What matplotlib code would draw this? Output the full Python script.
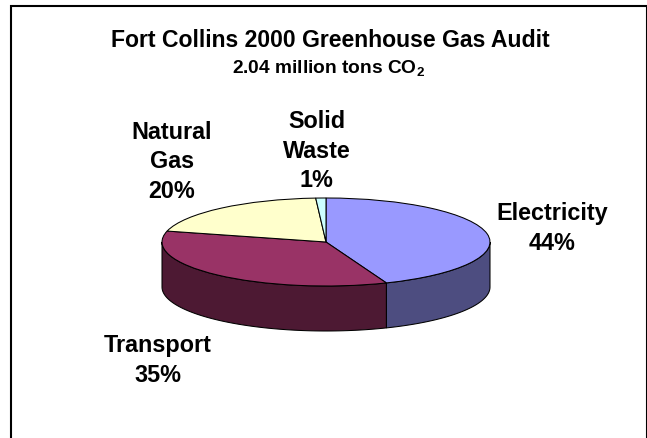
import numpy as np
import matplotlib
matplotlib.use("Agg")
import matplotlib.pyplot as plt
from matplotlib.patches import Polygon
from matplotlib.lines import Line2D

# ---- data ----
categories = ["Electricity", "Transport", "Natural\nGas", "Solid\nWaste"]
percent = [44, 35, 20, 1]
top_colors = ["#9999FF", "#993366", "#FFFFCC", "#CCFFFF"]
side_colors = ["#4D4D80", "#4D1933", "#80805F", "#668080"]
title = "Fort Collins 2000 Greenhouse Gas Audit"
subtitle = r"2.04 million tons CO$_{2}$"

plt.rcParams["font.family"] = ["Liberation Sans", "DejaVu Sans"]
plt.rcParams["mathtext.fontset"] = "custom"
plt.rcParams["mathtext.rm"] = "Liberation Sans:bold"
plt.rcParams["mathtext.it"] = "Liberation Sans:bold"
plt.rcParams["mathtext.bf"] = "Liberation Sans:bold"

W, H = 647, 438
fig = plt.figure(figsize=(W / 100, H / 100), dpi=100)
fig.patch.set_facecolor("white")

bg = fig.add_axes([0, 0, 1, 1])
bg.set_xlim(0, W)
bg.set_ylim(H, 0)
bg.axis("off")

# frame (no bottom edge)
bg.add_line(Line2D([10.5, 10.5, 646.5, 646.5], [H + 5, 5.5, 5.5, H + 5],
                   color="black", lw=1.5, solid_joinstyle="miter", clip_on=False))

# titles
bg.text(330.5, 47.3, title, ha="center", va="baseline", fontsize=16.6, fontweight="bold")
bg.text(328.5, 73, subtitle, ha="center", va="baseline", fontsize=13.8, fontweight="bold")

# ---- 3D pie ----
cx, cy, a, b, depth = 326, 242, 164, 44, 45
d = depth / b
pax = fig.add_axes([(cx - a) / W, (H - (cy + b + depth)) / H, 2 * a / W, (2 * b + depth) / H])

frac = np.array(percent, dtype=float) / sum(percent)
cum = np.concatenate([[0], np.cumsum(frac)])
start = 90.0
# side walls (front half only)
for i in range(len(percent)):
    t_hi = start - cum[i] * 360
    t_lo = start - cum[i + 1] * 360
    for k in range(-2, 2):
        lo = max(t_lo, -180 + 360 * k)
        hi = min(t_hi, 0 + 360 * k)
        if hi > lo:
            t = np.radians(np.linspace(lo, hi, 80))
            xs = np.concatenate([np.cos(t), np.cos(t[::-1])])
            ys = np.concatenate([np.sin(t), np.sin(t[::-1]) - d])
            pax.add_patch(Polygon(np.column_stack([xs, ys]), closed=True,
                                  facecolor=side_colors[i], edgecolor="black",
                                  lw=0.75, clip_on=False, zorder=1))

wedges, _ = pax.pie(percent, colors=top_colors, startangle=start, counterclock=False,
                    radius=1, wedgeprops=dict(edgecolor="black", linewidth=0.75))
for w in wedges:
    w.set_clip_on(False)
    w.set_zorder(2)
pax.set_aspect("auto")
pax.set_xlim(-1, 1)
pax.set_ylim(-1 - d, 1)
pax.axis("off")

# ---- labels ----
label_pos = [(552, 220), (158, 352), (172, 139), (316.5, 128)]
spacing = 29.5
for name, p, (lx, ly) in zip(categories, percent, label_pos):
    lines = name.split("\n") + [f"{p}%"]
    for j, ln in enumerate(lines):
        bg.text(lx, ly + j * spacing, ln, ha="center", va="baseline",
                fontsize=16.8, fontweight="bold")

fig.savefig("out.png", dpi=100)
